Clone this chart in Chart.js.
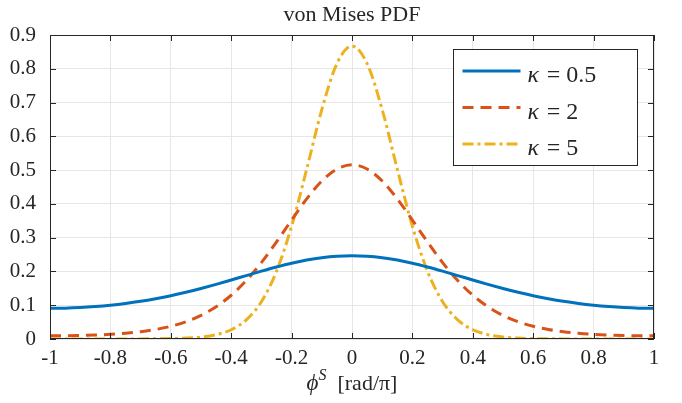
<!DOCTYPE html>
<html>
<head>
<meta charset="utf-8">
<script src="https://cdn.jsdelivr.net/npm/chart.js@4/dist/chart.umd.min.js"></script>
<style>
html,body{margin:0;padding:0;background:#fff;}
#wrap{width:682px;height:403px;position:relative;}
</style>
</head>
<body>
<div id="wrap"><canvas id="c" width="682" height="403"></canvas></div>
<script>
// ---- data ----
const titleText = "von Mises PDF";
const xValues = [-1,-0.95,-0.9,-0.85,-0.8,-0.75,-0.7,-0.65,-0.6,-0.55,-0.5,-0.45,-0.4,-0.35,-0.3,-0.25,-0.2,-0.15,-0.1,-0.05,0,
  0.05,0.1,0.15,0.2,0.25,0.3,0.35,0.4,0.45,0.5,0.55,0.6,0.65,0.7,0.75,0.8,0.85,0.9,0.95,1];
const kappa05 = [0.0908,0.0913,0.0930,0.0959,0.0999,0.1051,0.1115,0.1193,0.1282,0.1384,0.1497,0.1618,0.1747,0.1878,0.2008,0.2131,0.2243,0.2337,0.2408,0.2452,0.2467,
  0.2452,0.2408,0.2337,0.2243,0.2131,0.2008,0.1878,0.1747,0.1618,0.1497,0.1384,0.1282,0.1193,0.1115,0.1051,0.0999,0.0959,0.0930,0.0913,0.0908];
const kappa2 = [0.0095,0.0097,0.0104,0.0118,0.0138,0.0170,0.0216,0.0282,0.0376,0.0511,0.0698,0.0955,0.1295,0.1731,0.2262,0.2872,0.3521,0.4149,0.4678,0.5033,0.5159,
  0.5033,0.4678,0.4149,0.3521,0.2872,0.2262,0.1731,0.1295,0.0955,0.0698,0.0511,0.0376,0.0282,0.0216,0.0170,0.0138,0.0118,0.0104,0.0097,0.0095];
const kappa5 = [0.00004,0.00004,0.00005,0.00007,0.0001,0.00017,0.00031,0.0006,0.00125,0.00267,0.00584,0.01277,0.02739,0.05655,0.1104,0.2005,0.3337,0.5028,0.6789,0.8154,0.8671,
  0.8154,0.6789,0.5028,0.3337,0.2005,0.1104,0.05655,0.02739,0.01277,0.00584,0.00267,0.00125,0.0006,0.00031,0.00017,0.0001,0.00007,0.00005,0.00004,0.00004];
const seriesLabels = ["0.5","2","5"];
const xTicks = [-1,-0.8,-0.6,-0.4,-0.2,0,0.2,0.4,0.6,0.8,1];
const yTicks = [0,0.1,0.2,0.3,0.4,0.5,0.6,0.7,0.8,0.9];

// ---- styling ----
const AX = '#262626';
const GRID = '#e6e6e6';
const SERIF = '"Liberation Serif","DejaVu Serif",serif';
const colors = ['#0072BD','#D95319','#EDB120'];
const dashes = [[],[11,7],[11,4,3,4]];

const pts = arr => xValues.map((x,i)=>({x:x,y:arr[i]}));
const seriesData = [kappa05,kappa2,kappa5];

const datasets = seriesData.map((arr,i)=>({
  label: '\u03BA = ' + seriesLabels[i],
  data: pts(arr),
  borderColor: colors[i],
  backgroundColor: colors[i],
  borderWidth: 3,
  borderDash: dashes[i],
  pointRadius: 0,
  cubicInterpolationMode: 'monotone',
  fill: false
}));

const frame = {
  id: 'frame',
  afterDraw(chart){
    const ctx = chart.ctx, a = chart.chartArea;
    const xs = chart.scales.x, ys = chart.scales.y;
    ctx.save();
    // box
    ctx.strokeStyle = AX; ctx.lineWidth = 1; ctx.setLineDash([]);
    ctx.strokeRect(Math.round(a.left)+0.5, Math.round(a.top)+0.5, Math.round(a.right-a.left)-1, Math.round(a.bottom-a.top)-1);
    // inward ticks
    const L = 6;
    ctx.beginPath();
    xTicks.forEach(v=>{
      const p = Math.round(xs.getPixelForValue(v))+0.5;
      ctx.moveTo(p, a.bottom); ctx.lineTo(p, a.bottom-L);
      ctx.moveTo(p, a.top); ctx.lineTo(p, a.top+L);
    });
    yTicks.forEach(v=>{
      const p = Math.round(ys.getPixelForValue(v))+0.5;
      ctx.moveTo(a.left, p); ctx.lineTo(a.left+L, p);
      ctx.moveTo(a.right, p); ctx.lineTo(a.right-L, p);
    });
    ctx.stroke();

    // title
    ctx.fillStyle = AX;
    ctx.font = '22px ' + SERIF;
    ctx.textAlign = 'center'; ctx.textBaseline = 'alphabetic';
    ctx.fillText(titleText, (a.left+a.right)/2, 21);

    // x-axis label: phi^S [rad/pi]
    const f1 = 'italic 23px ' + SERIF, f2 = 'italic 16px ' + SERIF, f3 = '22px ' + SERIF;
    const parts = [['\u03D5', f1, 0], ['S', f2, -10], ['  [rad/\u03C0]', f3, 0]];
    let w = 0;
    parts.forEach(p=>{ ctx.font = p[1]; p.push(ctx.measureText(p[0]).width); w += p[3]; });
    let x = (a.left+a.right)/2 - w/2;
    const base = 390;
    ctx.textAlign = 'left';
    parts.forEach(p=>{ ctx.font = p[1]; ctx.fillText(p[0], x, base + p[2]); x += p[3]; });
    ctx.restore();
  },
  afterDatasetsDraw(chart){
    const ctx = chart.ctx, a = chart.chartArea;
    // legend box (inside plot, top-right)
    const bx = 453.5, by = 49.5, bw = 184, bh = 116;
    ctx.save();
    ctx.fillStyle = '#fff';
    ctx.fillRect(bx, by, bw, bh);
    ctx.strokeStyle = AX; ctx.lineWidth = 1; ctx.setLineDash([]);
    ctx.strokeRect(bx, by, bw, bh);
    chart.data.datasets.forEach((ds,i)=>{
      const y = by + 21.5 + i*36.5;
      ctx.beginPath();
      ctx.strokeStyle = ds.borderColor; ctx.lineWidth = 3;
      ctx.setLineDash(ds.borderDash);
      ctx.moveTo(bx+9, y); ctx.lineTo(bx+67, y);
      ctx.stroke();
      ctx.setLineDash([]);
      ctx.fillStyle = AX;
      ctx.textBaseline = 'alphabetic'; ctx.textAlign = 'left';
      ctx.font = 'italic 24px ' + SERIF;
      const tx = bx + 74, ty = y + 11;
      ctx.fillText('\u03BA', tx, ty);
      const kw = ctx.measureText('\u03BA').width;
      ctx.font = '24px ' + SERIF;
      ctx.fillText('\u2009= ' + seriesLabels[i], tx + kw + 3, ty);
    });
    ctx.restore();
  }
};

new Chart(document.getElementById('c'), {
  type: 'line',
  data: { datasets: datasets },
  options: {
    responsive: false,
    animation: false,
    devicePixelRatio: 1,
    layout: { padding: { left: 0, right: 28, top: 35, bottom: 0 } },
    plugins: { legend: { display: false }, title: { display: false }, tooltip: { enabled: false } },
    scales: {
      x: {
        type: 'linear', min: -1, max: 1,
        afterFit(s){ s.height = 64; },
        afterBuildTicks(s){ s.ticks = xTicks.map(v=>({value:v})); },
        grid: { color: GRID, lineWidth: 1, drawTicks: false },
        border: { display: false },
        ticks: { color: AX, font: { family: SERIF, size: 21 }, padding: 7, maxRotation: 0,
          callback: v => String(Number(v.toFixed(1))) }
      },
      y: {
        type: 'linear', min: 0, max: 0.9,
        afterFit(s){ s.width = 50; },
        afterBuildTicks(s){ s.ticks = yTicks.map(v=>({value:v})); },
        grid: { color: GRID, lineWidth: 1, drawTicks: false },
        border: { display: false },
        ticks: { color: AX, font: { family: SERIF, size: 21 }, padding: 14,
          callback: v => String(Number(v.toFixed(1))) }
      }
    }
  },
  plugins: [frame]
});
</script>
</body>
</html>
